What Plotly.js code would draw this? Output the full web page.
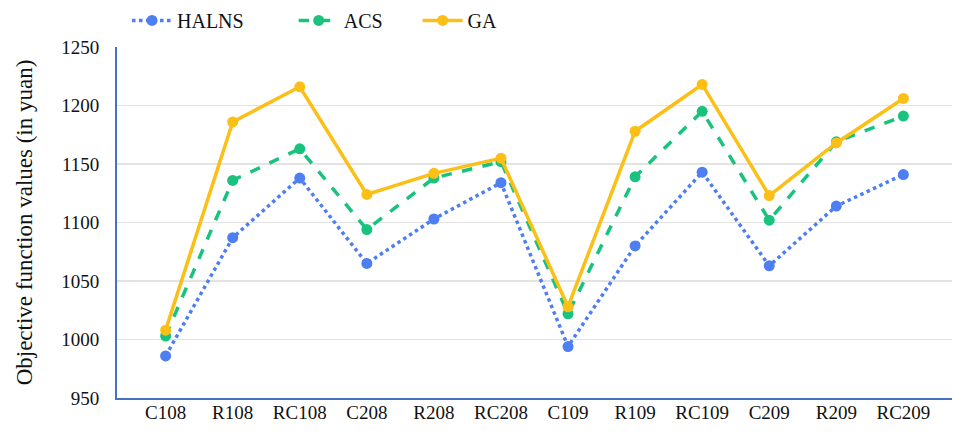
<!DOCTYPE html>
<html>
<head>
<meta charset="utf-8">
<script src="https://cdn.plot.ly/plotly-3.0.1.min.js"></script>
<style>html,body{margin:0;padding:0;background:#fff;}#chart{width:953px;height:434px;}</style>
</head>
<body>
<div id="chart"></div>
<script>
var categories = ["C108","R108","RC108","C208","R208","RC208","C109","R109","RC109","C209","R209","RC209"];
var halns = [986, 1087, 1138, 1065, 1103, 1134, 994, 1080, 1143, 1063, 1114, 1141];
var acs   = [1003, 1136, 1163, 1094, 1138, 1152, 1022, 1139, 1195, 1102, 1169, 1191];
var ga    = [1008, 1186, 1216, 1124, 1142, 1155, 1028, 1178, 1218, 1123, 1168, 1206];
var yTicks = [950, 1000, 1050, 1100, 1150, 1200, 1250];
var seriesNames = ["HALNS", "ACS", "GA"];

var font = "Liberation Serif";
function pad(n) { return "\u00a0".repeat(n); }
var traces = [
  {x: categories, y: halns, name: seriesNames[0] + pad(9), type: "scatter", mode: "lines+markers",
   line: {color: "#4D7EF2", width: 3.5, dash: "dot"}, marker: {color: "#4D7EF2", size: 11}},
  {x: categories, y: acs, name: seriesNames[1] + pad(6), type: "scatter", mode: "lines+markers",
   line: {color: "#19C37D", width: 3.5, dash: "dash"}, marker: {color: "#19C37D", size: 11}},
  {x: categories, y: ga, name: seriesNames[2], type: "scatter", mode: "lines+markers",
   line: {color: "#FBBF16", width: 3.5}, marker: {color: "#FBBF16", size: 11}}
];
var layout = {
  width: 953, height: 434,
  margin: {l: 117, r: 1, t: 47, b: 36},
  paper_bgcolor: "#fff", plot_bgcolor: "#fff",
  font: {family: font, size: 19, color: "#111"},
  showlegend: true,
  legend: {orientation: "h", x: 0.012, xanchor: "left", y: 1.02, yanchor: "bottom",
           font: {family: font, size: 20, color: "#111"}, itemwidth: 40, tracegroupgap: 0},
  xaxis: {type: "category", showline: true, linecolor: "#4472C4", linewidth: 2,
          showgrid: false, zeroline: false, ticks: "", ticklabelstandoff: -4,
          tickfont: {family: font, size: 19, color: "#111"}},
  yaxis: {range: [950, 1250], tickvals: yTicks, showline: true, linecolor: "#4472C4", linewidth: 2,
          showgrid: true, gridcolor: "#E3E3E3", gridwidth: 1.5, zeroline: false,
          ticks: "outside", ticklen: 12, tickcolor: "rgba(0,0,0,0)",
          tickfont: {family: font, size: 19, color: "#111"},
          title: {text: "Objective function values (in yuan)", font: {family: font, size: 23, color: "#111"}, standoff: 22}}
};
Plotly.newPlot("chart", traces, layout, {displayModeBar: false, staticPlot: true});
</script>
</body>
</html>
